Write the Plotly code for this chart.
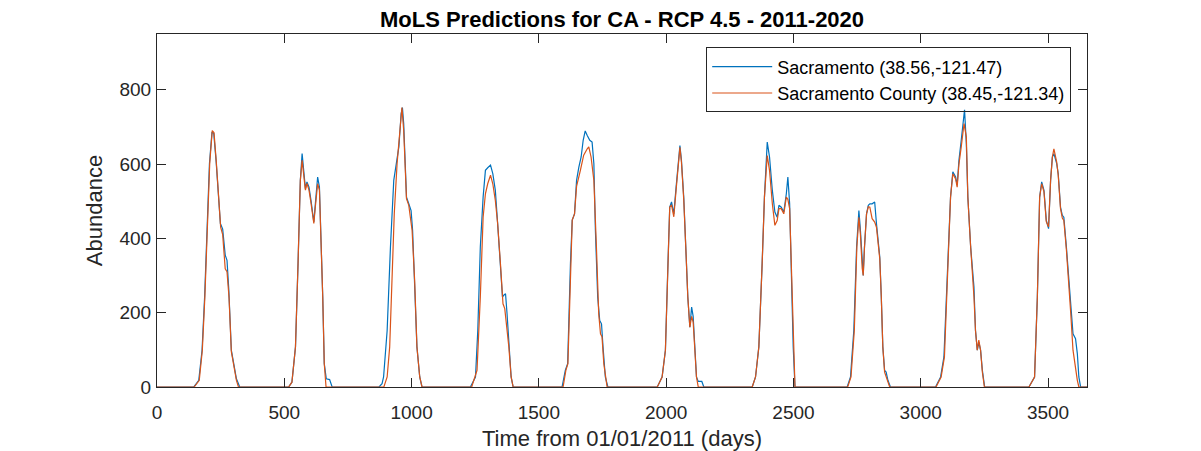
import plotly.graph_objects as go

# Sacramento (city) series
sac_days = [0, 144, 164, 177, 187, 196, 206, 216, 223, 232, 242, 249, 258, 268, 275, 282, 292, 301, 312, 325,
            517, 530, 544, 554, 563, 570, 576, 583, 589, 597, 605, 616, 622, 631, 638, 644, 651, 657, 665, 678, 688,
            872, 884, 890, 904, 917, 930, 940, 950, 959, 964, 969, 980, 989, 998, 1004, 1012, 1021, 1032, 1041,
            1231, 1251, 1260, 1270, 1281, 1290, 1299, 1310, 1319, 1329, 1338, 1349, 1357, 1362, 1369, 1375, 1382, 1391, 1399,
            1591, 1604, 1613, 1624, 1631, 1640, 1648, 1657, 1666, 1674, 1682, 1690, 1700, 1709, 1716, 1722, 1731, 1739, 1746, 1752, 1761, 1771,
            1965, 1984, 1997, 2007, 2014, 2021, 2030, 2039, 2047, 2054, 2060, 2069, 2077, 2085, 2093, 2100, 2106, 2113, 2119, 2126, 2140, 2148,
            2338, 2351, 2364, 2377, 2386, 2397, 2406, 2417, 2427, 2436, 2443, 2452, 2462, 2472, 2478, 2485, 2491, 2499, 2506,
            2711, 2724, 2737, 2748, 2757, 2763, 2770, 2774, 2779, 2787, 2794, 2800, 2809, 2819, 2826, 2833, 2839, 2845, 2851, 2858, 2864, 2871, 2881,
            3058, 3078, 3091, 3104, 3117, 3126, 3137, 3143, 3150, 3159, 3166, 3172, 3179, 3185, 3196, 3204, 3209, 3215, 3222, 3228, 3235, 3242, 3251,
            3425, 3438, 3447, 3458, 3467, 3475, 3484, 3493, 3502, 3510, 3517, 3523, 3534, 3540, 3549, 3556, 3562, 3572, 3582, 3589, 3598, 3608, 3615, 3621, 3628, 3653]
sac_abund = [0, 0, 18, 99, 242, 422, 601, 686, 682, 610, 511, 440, 425, 355, 341, 262, 99, 63, 22, 0,
             0, 13, 108, 332, 556, 628, 583, 534, 552, 538, 502, 444, 493, 565, 538, 422, 242, 63, 22, 20, 0,
             0, 9, 27, 152, 377, 556, 601, 646, 736, 752, 709, 511, 493, 475, 422, 287, 108, 27, 0,
             0, 27, 152, 377, 511, 583, 590, 597, 574, 529, 440, 332, 242, 247, 251, 197, 108, 27, 0,
             0, 45, 63, 332, 449, 466, 556, 592, 619, 664, 689, 677, 664, 659, 601, 422, 242, 179, 170, 108, 27, 0,
             0, 27, 99, 332, 484, 498, 466, 538, 610, 650, 610, 511, 377, 242, 161, 215, 190, 108, 27, 15, 15, 0,
             0, 27, 108, 332, 511, 659, 619, 529, 471, 457, 489, 484, 471, 520, 565, 493, 332, 108, 0,
             0, 27, 152, 377, 475, 422, 332, 300, 377, 466, 489, 493, 493, 498, 440, 395, 350, 242, 108, 45, 40, 18, 0,
             0, 27, 81, 287, 511, 579, 565, 543, 610, 664, 718, 746, 655, 511, 377, 314, 269, 152, 99, 121, 99, 45, 0,
             0, 18, 27, 242, 511, 552, 529, 449, 426, 556, 619, 628, 601, 574, 484, 462, 457, 377, 287, 215, 143, 130, 90, 27, 0, 0]

# Sacramento County series
cty_days = [0, 146, 166, 178, 188, 197, 207, 217, 224, 233, 243, 250, 258, 268, 275, 283, 292, 301, 312, 320,
            517, 530, 544, 554, 563, 570, 576, 583, 589, 597, 605, 616, 622, 631, 638, 644, 651, 657, 664,
            891, 904, 914, 923, 932, 943, 953, 962, 969, 980, 989, 1002, 1012, 1021, 1032, 1041,
            1236, 1257, 1270, 1281, 1290, 1299, 1310, 1319, 1329, 1338, 1349, 1359, 1366, 1373, 1382, 1391, 1399,
            1595, 1606, 1614, 1624, 1631, 1640, 1648, 1663, 1676, 1690, 1696, 1705, 1716, 1726, 1735, 1742, 1748, 1755, 1768,
            1965, 1984, 1997, 2007, 2014, 2021, 2030, 2039, 2047, 2054, 2060, 2069, 2077, 2085, 2093, 2100, 2106, 2113, 2119, 2126,
            2338, 2351, 2364, 2377, 2386, 2397, 2406, 2417, 2427, 2436, 2443, 2452, 2462, 2472, 2478, 2485, 2491, 2499, 2506,
            2713, 2726, 2739, 2749, 2757, 2763, 2770, 2774, 2779, 2787, 2794, 2800, 2809, 2819, 2826, 2833, 2839, 2845, 2851, 2858, 2864, 2871, 2878,
            3060, 3080, 3093, 3105, 3117, 3126, 3137, 3143, 3150, 3159, 3166, 3170, 3179, 3185, 3196, 3204, 3209, 3215, 3222, 3228, 3235, 3242, 3250,
            3425, 3438, 3447, 3458, 3467, 3475, 3484, 3493, 3502, 3510, 3517, 3523, 3534, 3540, 3549, 3556, 3562, 3572, 3582, 3589, 3598, 3608, 3615, 3621, 3653]
cty_abund = [0, 0, 18, 99, 242, 422, 601, 690, 684, 605, 505, 430, 410, 318, 310, 240, 95, 60, 18, 0,
             0, 13, 108, 332, 556, 610, 578, 530, 548, 530, 495, 440, 485, 547, 530, 420, 242, 63, 0,
             0, 27, 108, 287, 466, 601, 673, 752, 691, 507, 489, 422, 287, 108, 27, 0,
             0, 45, 242, 457, 520, 547, 570, 547, 502, 440, 332, 224, 211, 170, 108, 27, 0,
             0, 45, 63, 332, 449, 466, 540, 583, 624, 641, 646, 619, 556, 377, 197, 143, 135, 63, 0,
             0, 27, 99, 332, 484, 490, 458, 530, 605, 645, 605, 505, 377, 242, 161, 190, 175, 108, 27, 0,
             0, 27, 108, 332, 511, 623, 583, 493, 435, 448, 480, 480, 466, 511, 505, 480, 332, 108, 0,
             0, 27, 152, 377, 457, 410, 320, 300, 377, 466, 485, 484, 453, 444, 430, 390, 345, 242, 108, 40, 27, 10, 0,
             0, 27, 81, 287, 511, 574, 560, 538, 600, 646, 700, 709, 673, 511, 377, 300, 242, 152, 99, 126, 99, 40, 0,
             0, 18, 27, 242, 511, 547, 525, 445, 431, 556, 619, 641, 605, 570, 480, 455, 448, 370, 280, 200, 99, 45, 18, 0, 0]

x_ticks = [0, 500, 1000, 1500, 2000, 2500, 3000, 3500]
y_ticks = [0, 200, 400, 600, 800]

axis_color = '#262626'

fig = go.Figure()
fig.add_trace(go.Scatter(x=sac_days, y=sac_abund, mode='lines',
                         name='Sacramento (38.56,-121.47)',
                         line=dict(color='#0072BD', width=1.2)))
fig.add_trace(go.Scatter(x=cty_days, y=cty_abund, mode='lines',
                         name='Sacramento County (38.45,-121.34)',
                         line=dict(color='#D95319', width=1.2)))

# page body has an 8px margin, so the figure is a bit smaller than the window
fig.update_layout(
    width=1193, height=443,
    margin=dict(l=149, r=114, t=26, b=64),
    plot_bgcolor='white', paper_bgcolor='white',
    font=dict(family='Liberation Sans, Arial, sans-serif', color=axis_color),
    title=dict(text='<b>MoLS Predictions for CA - RCP 4.5 - 2011-2020</b>',
               x=0.5, xref='paper', xanchor='center',
               y=1 - 11 / 443, yref='container', yanchor='middle',
               font=dict(size=22, color='black')),
    # plotly's legend is a bit taller than matlab's, keep it see-through so the 2019 peak shows
    legend=dict(x=0.983, xanchor='right', y=0.962, yanchor='top',
                bordercolor=axis_color, borderwidth=1, bgcolor='rgba(255,255,255,0)',
                itemwidth=60,
                font=dict(size=18, color='black')),
    xaxis=dict(range=[0, 3653], tickvals=x_ticks, ticks='inside', ticklen=9,
               tickcolor=axis_color, showline=True, linecolor=axis_color, linewidth=1,
               mirror='ticks', showgrid=False, zeroline=False, automargin=False,
               tickfont=dict(size=19), ticklabelstandoff=8,
               title=dict(text='Time from 01/01/2011 (days)', font=dict(size=22), standoff=10)),
    yaxis=dict(range=[0, 950], tickvals=y_ticks, ticks='inside', ticklen=9,
               tickcolor=axis_color, showline=True, linecolor=axis_color, linewidth=1,
               mirror='ticks', showgrid=False, zeroline=False, automargin=False,
               tickfont=dict(size=19), ticklabelstandoff=1,
               title=dict(text='Abundance', font=dict(size=22), standoff=10)),
)

fig.write_html("out.html")
